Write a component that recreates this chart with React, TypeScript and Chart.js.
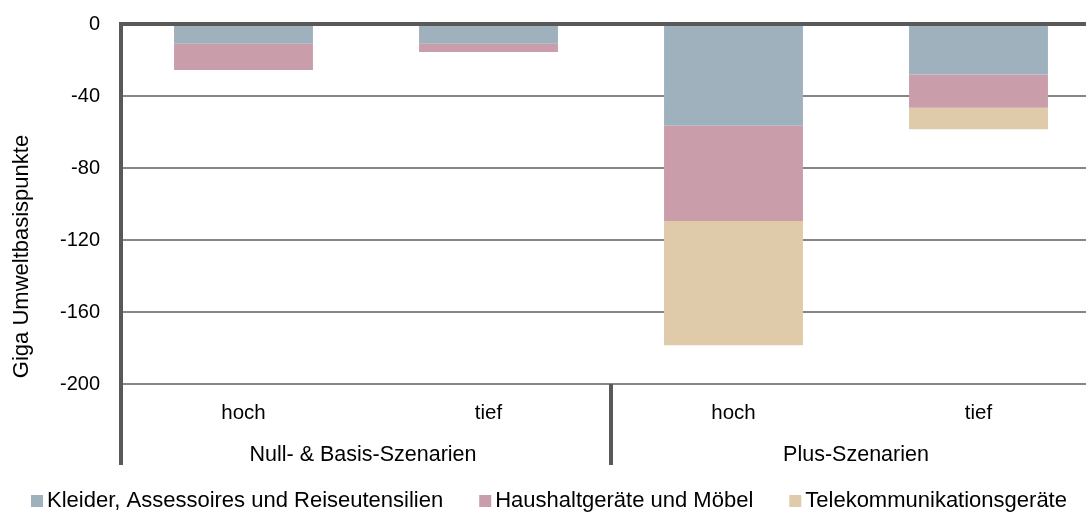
import React, { useEffect, useRef } from "react";
import { Chart, registerables } from "chart.js";

Chart.register(...registerables);

const categories = ["hoch", "tief", "hoch", "tief"];
const groups = ["Null- & Basis-Szenarien", "Plus-Szenarien"];
const seriesNames = [
  "Kleider, Assessoires und Reiseutensilien",
  "Haushaltgeräte und Möbel",
  "Telekommunikationsgeräte",
];
const kleider = [-11, -11, -56.5, -28];
const haushalt = [-14.5, -4.5, -53, -18.5];
const telekom = [0, 0, -69, -12];
const yTicks = [0, -40, -80, -120, -160, -200];
const yTitle = "Giga Umweltbasispunkte";
const colors = ["#A0B1BE", "#CA9DAA", "#DFCAAA"];

const FONT = "'Liberation Sans', Arial, sans-serif";
const TICK_SIZE = 20;
const XLABEL_SIZE = 20.5;
const GROUP_SIZE = 21.5;
const TITLE_SIZE = 22;
const LEGEND_SIZE = 22;
const XAXIS_H = 81;

const decor = {
  id: "decor",
  afterDraw(chart: any) {
    const { ctx, chartArea: a, scales } = chart;
    const x = scales.x;
    const axisBottom = a.bottom + XAXIS_H;
    ctx.save();
    ctx.strokeStyle = "#595959";
    ctx.lineWidth = 4;
    ctx.beginPath();
    ctx.moveTo(a.left, a.top - 2);
    ctx.lineTo(a.left, axisBottom);
    ctx.stroke();
    const sep = (x.getPixelForValue(1) + x.getPixelForValue(2)) / 2;
    ctx.beginPath();
    ctx.moveTo(sep, a.bottom);
    ctx.lineTo(sep, axisBottom);
    ctx.stroke();

    ctx.fillStyle = "#000";
    ctx.font = `${GROUP_SIZE}px ${FONT}`;
    ctx.textAlign = "center";
    ctx.textBaseline = "alphabetic";
    ctx.fillText(groups[0], (a.left + sep) / 2 - 3, a.bottom + 77);
    ctx.fillText(groups[1], (sep + a.right) / 2, a.bottom + 77);

    ctx.font = `${TITLE_SIZE}px ${FONT}`;
    ctx.save();
    ctx.translate(28, (a.top + axisBottom) / 2 + 12);
    ctx.rotate(-Math.PI / 2);
    ctx.fillText(yTitle, 0, 0);
    ctx.restore();

    // legend
    ctx.font = `${LEGEND_SIZE}px ${FONT}`;
    const box = 12;
    const boxGap = 4;
    const itemGap = 36;
    let cx = 31;
    const baseY = 507;
    ctx.textAlign = "left";
    seriesNames.forEach((n, i) => {
      ctx.fillStyle = colors[i];
      ctx.fillRect(cx, baseY - box, box, box);
      ctx.fillStyle = "#000";
      ctx.fillText(n, cx + box + boxGap, baseY);
      cx += box + boxGap + ctx.measureText(n).width + itemGap;
    });
    ctx.restore();
  },
};

export default function App() {
  const ref = useRef<HTMLCanvasElement | null>(null);
  useEffect(() => {
    if (!ref.current) return;
    const chart = new Chart(ref.current, {
      type: "bar",
      data: {
        labels: categories,
        datasets: [
          { label: seriesNames[0], data: kleider, backgroundColor: colors[0] },
          { label: seriesNames[1], data: haushalt, backgroundColor: colors[1] },
          { label: seriesNames[2], data: telekom, backgroundColor: colors[2] },
        ],
      },
      options: {
        animation: false,
        responsive: true,
        maintainAspectRatio: false,
        datasets: { bar: { categoryPercentage: 1, barPercentage: 0.567 } },
        layout: { padding: { left: 0, right: 9, top: 24, bottom: 47 } },
        plugins: { legend: { display: false }, tooltip: { enabled: false } },
        scales: {
          x: {
            stacked: true,
            grid: { display: false, drawTicks: false },
            border: { display: false },
            ticks: {
              color: "#000",
              font: { family: FONT, size: XLABEL_SIZE },
              padding: 17,
              maxRotation: 0,
              autoSkip: false,
            },
            afterFit: (s: any) => {
              s.height = XAXIS_H;
              s.paddingLeft = 0;
              s.paddingRight = 0;
            },
          },
          y: {
            stacked: true,
            min: -200,
            max: 0,
            afterBuildTicks: (s: any) => {
              s.ticks = yTicks.map((v) => ({ value: v }));
            },
            grid: {
              color: (c: any) => (c.tick && c.tick.value === 0 ? "#595959" : "#868686"),
              lineWidth: (c: any) => (c.tick && c.tick.value === 0 ? 4 : 2),
              drawTicks: false,
            },
            border: { display: false },
            ticks: {
              color: "#000",
              font: { family: FONT, size: TICK_SIZE },
              padding: 21,
              callback: (v: any) => String(v),
            },
            afterFit: (s: any) => {
              s.width = 121;
              s.paddingTop = 0;
              s.paddingBottom = 0;
            },
          },
        },
      },
      plugins: [decor],
    });
    return () => chart.destroy();
  }, []);
  return (
    <div
      style={{
        position: "fixed",
        left: 0,
        top: 0,
        width: 1086,
        height: 512,
        overflow: "hidden",
        background: "#fff",
      }}
    >
      <div style={{ position: "relative", width: 1110, height: 512 }}>
        <canvas ref={ref} />
      </div>
    </div>
  );
}
